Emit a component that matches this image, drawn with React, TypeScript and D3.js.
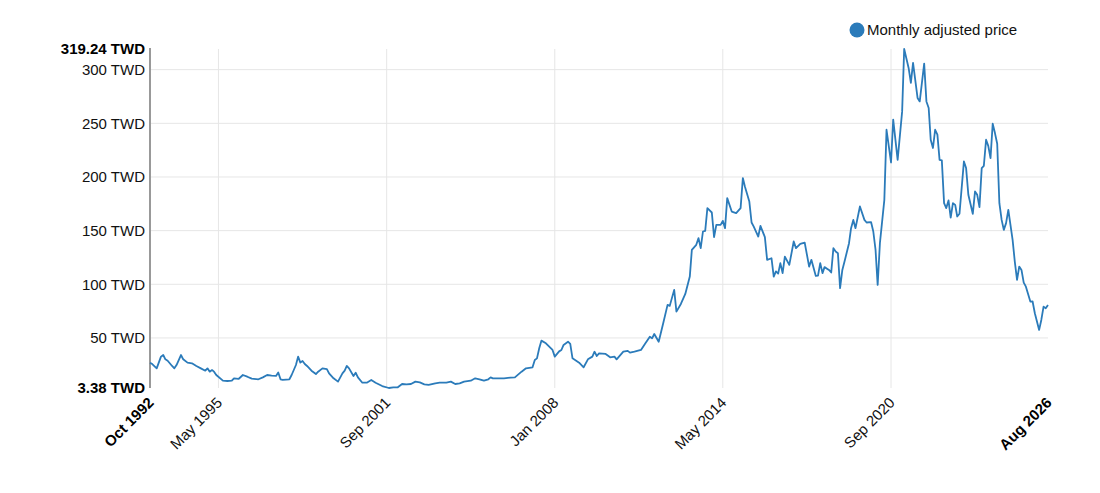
import React from 'react';
import * as d3 from 'd3';

// monthly adjusted price, TWD
const priceSeries: [string, number][] = [
  ["1992-10", 27], ["1992-11", 25.7], ["1993-01", 21.7], ["1993-03", 32.6], ["1993-04", 34.1],
  ["1993-05", 30.1], ["1993-06", 28.8], ["1993-08", 23.9], ["1993-09", 21.7], ["1993-10", 24.8],
  ["1993-12", 34.1], ["1994-01", 30.1], ["1994-03", 27], ["1994-05", 26.4], ["1994-07", 23.9],
  ["1994-09", 21.7], ["1994-11", 19.5], ["1994-12", 21.7], ["1995-01", 18.6], ["1995-02", 20.1],
  ["1995-03", 18.6], ["1995-04", 15.5], ["1995-07", 10.2], ["1995-09", 9.9], ["1995-11", 10.2],
  ["1995-12", 12.4], ["1996-02", 11.8], ["1996-04", 15.5], ["1996-06", 13.9], ["1996-08", 12.1],
  ["1996-11", 11.5], ["1997-01", 13.3], ["1997-03", 15.5], ["1997-05", 14.9], ["1997-07", 14.6],
  ["1997-08", 17.9], ["1997-09", 11.5], ["1997-10", 11], ["1998-01", 11.5], ["1998-02", 15.5],
  ["1998-04", 24.8], ["1998-05", 32.6], ["1998-06", 27], ["1998-07", 28.5], ["1998-08", 25.7],
  ["1998-09", 23.9], ["1998-11", 19.5], ["1999-01", 16.4], ["1999-02", 18.6], ["1999-04", 21.7],
  ["1999-06", 20.9], ["1999-07", 17], ["1999-09", 12.4], ["1999-11", 9.3], ["2000-01", 17],
  ["2000-02", 19.5], ["2000-03", 23.9], ["2000-04", 21.7], ["2000-06", 14.6], ["2000-07", 17.6],
  ["2000-08", 13.3], ["2000-10", 8.3], ["2000-12", 8.3], ["2001-02", 10.8], ["2001-04", 8.3],
  ["2001-07", 5.2], ["2001-10", 3.38], ["2001-12", 4], ["2002-02", 4], ["2002-04", 7.1],
  ["2002-06", 6.8], ["2002-08", 7.1], ["2002-10", 9.3], ["2002-12", 8.6], ["2003-02", 6.8],
  ["2003-04", 6.2], ["2003-07", 7.7], ["2003-09", 8.3], ["2003-12", 8.3], ["2004-02", 9.3],
  ["2004-04", 7.1], ["2004-06", 7.7], ["2004-08", 9.3], ["2004-11", 10.2], ["2005-01", 12.4],
  ["2005-03", 11.5], ["2005-05", 10.2], ["2005-07", 11.5], ["2005-08", 13.3], ["2005-09", 12.4],
  ["2005-11", 12.4], ["2006-02", 12.4], ["2006-05", 13], ["2006-07", 13.3], ["2006-10", 18.6],
  ["2006-12", 21.7], ["2007-03", 22.7], ["2007-04", 29.5], ["2007-05", 31], ["2007-06", 40.4],
  ["2007-07", 47.5], ["2007-09", 45], ["2007-12", 38.8], ["2008-01", 32.6], ["2008-03", 37.5],
  ["2008-04", 38.8], ["2008-05", 43.5], ["2008-07", 46.5], ["2008-08", 44.4], ["2008-09", 31],
  ["2008-12", 27], ["2009-02", 22.7], ["2009-04", 30.1], ["2009-06", 32.6], ["2009-07", 37.2],
  ["2009-08", 33.2], ["2009-09", 35.7], ["2009-12", 35.1], ["2010-02", 32], ["2010-04", 32.6],
  ["2010-05", 30.1], ["2010-08", 37.2], ["2010-10", 38], ["2010-11", 36.3], ["2011-01", 37.2],
  ["2011-04", 38.8], ["2011-06", 45], ["2011-08", 51.2], ["2011-09", 49.7], ["2011-10", 53.7],
  ["2011-12", 46.5], ["2012-02", 63.7], ["2012-04", 80.8], ["2012-05", 79.9], ["2012-07", 94.8],
  ["2012-08", 74.5], ["2012-10", 81.7], ["2012-12", 91], ["2013-02", 107.2], ["2013-03", 132],
  ["2013-05", 136.8], ["2013-06", 143], ["2013-07", 133.7], ["2013-08", 149.2], ["2013-09", 149.8],
  ["2013-10", 171], ["2013-12", 166.9], ["2014-01", 143.9], ["2014-02", 155.4], ["2014-04", 155.4],
  ["2014-05", 159.1], ["2014-06", 152.3], ["2014-07", 180.3], ["2014-09", 167.8], ["2014-11", 166.3],
  ["2015-01", 171], ["2015-02", 199], ["2015-03", 191.2], ["2015-05", 177.1], ["2015-06", 157.6],
  ["2015-07", 153.8], ["2015-09", 144.5], ["2015-10", 154.5], ["2015-12", 143.9], ["2016-01", 122.8],
  ["2016-03", 124.3], ["2016-04", 107.2], ["2016-05", 112], ["2016-06", 110], ["2016-07", 119.7],
  ["2016-08", 110.4], ["2016-09", 125.8], ["2016-11", 118.1], ["2017-01", 139.9], ["2017-02", 133.7],
  ["2017-04", 137.7], ["2017-06", 138.9], ["2017-08", 116.5], ["2017-09", 122.8], ["2017-11", 107.8],
  ["2017-12", 108], ["2018-01", 119.7], ["2018-02", 110.4], ["2018-03", 116], ["2018-05", 113.4],
  ["2018-06", 111], ["2018-07", 133.7], ["2018-08", 130.5], ["2018-09", 129], ["2018-10", 96.4],
  ["2018-11", 113.4], ["2018-12", 121.2], ["2019-02", 138.3], ["2019-03", 152.3], ["2019-04", 160],
  ["2019-05", 152.3], ["2019-07", 172.5], ["2019-09", 160], ["2019-10", 157.6], ["2019-12", 158],
  ["2020-01", 149.2], ["2020-02", 132], ["2020-03", 99.4], ["2020-04", 138.3], ["2020-06", 178.7],
  ["2020-07", 244], ["2020-09", 213.5], ["2020-10", 253.4], ["2020-12", 216], ["2021-02", 261.1],
  ["2021-03", 319.24], ["2021-05", 301.6], ["2021-06", 287.6], ["2021-07", 306.3], ["2021-09", 273.6],
  ["2021-10", 270.4], ["2021-12", 305.6], ["2022-01", 270.4], ["2022-02", 264.3], ["2022-03", 234.7],
  ["2022-04", 227], ["2022-05", 244], ["2022-06", 239.4], ["2022-07", 216], ["2022-08", 215.5],
  ["2022-09", 175.6], ["2022-10", 171], ["2022-11", 178.1], ["2022-12", 162.2], ["2023-01", 175.6],
  ["2023-02", 174], ["2023-03", 163.2], ["2023-04", 165.7], ["2023-06", 214.5], ["2023-07", 208.3],
  ["2023-08", 183.4], ["2023-10", 165.7], ["2023-11", 186.5], ["2023-12", 183.4], ["2024-01", 171.9],
  ["2024-02", 208.3], ["2024-03", 210.4], ["2024-04", 234.7], ["2024-05", 229], ["2024-06", 217.6],
  ["2024-07", 249.6], ["2024-08", 240.9], ["2024-09", 231], ["2024-10", 175.6], ["2024-11", 160],
  ["2024-12", 150.7], ["2025-01", 157], ["2025-02", 169.4], ["2025-04", 141.4], ["2025-05", 121.2],
  ["2025-06", 104.1], ["2025-07", 116.5], ["2025-08", 113.4], ["2025-09", 101.6], ["2025-10", 97.8],
  ["2025-12", 83.9], ["2026-01", 84], ["2026-02", 73], ["2026-04", 57.5], ["2026-05", 66.8],
  ["2026-06", 79.2], ["2026-07", 77.7], ["2026-08", 80.8],
];

const yTicks = [50, 100, 150, 200, 250, 300];
const xTicks = ["1995-05", "2001-09", "2008-01", "2014-05", "2020-09"];
const seriesName = "Monthly adjusted price";
const currency = "TWD";

const W = 1100;
const H = 493;
const margin = { top: 49, right: 52, bottom: 105, left: 150 };
const blue = "#2b7bba";
const font = "'Liberation Sans', Arial, sans-serif";
const fontSize = 15;

const parseMonth = d3.timeParse("%Y-%m");
const fmtMonth = d3.timeFormat("%b %Y");

export default function App() {
  const data = priceSeries.map(([d, v]) => ({ date: parseMonth(d) as Date, value: v }));
  const [minDate, maxDate] = d3.extent(data, (d) => d.date) as [Date, Date];
  const [minVal, maxVal] = d3.extent(data, (d) => d.value) as [number, number];

  const x = d3.scaleTime().domain([minDate, maxDate]).range([margin.left, W - margin.right]);
  const y = d3.scaleLinear().domain([minVal, maxVal]).range([H - margin.bottom, margin.top]);

  const line = d3
    .line<{ date: Date; value: number }>()
    .x((d) => x(d.date))
    .y((d) => y(d.value));

  const xTickDates = xTicks.map((d) => parseMonth(d) as Date);
  const x0 = margin.left;
  const x1 = W - margin.right;
  const yBottom = y(minVal);
  const yTop = y(maxVal);

  const fmtVal = (v: number) => `${d3.format("~f")(v)} ${currency}`;

  return (
    <svg
      width={W}
      height={H}
      style={{ position: 'absolute', left: 0, top: 0, display: 'block', background: '#fff' }}
      fontFamily={font}
    >
      {/* horizontal grid */}
      {yTicks.map((t) => (
        <line key={`hg${t}`} x1={x0} x2={x1} y1={y(t)} y2={y(t)} stroke="#e6e6e6" strokeWidth={1} />
      ))}
      {/* vertical grid */}
      {xTickDates.map((d, i) => (
        <line key={`vg${i}`} x1={x(d)} x2={x(d)} y1={yTop} y2={yBottom} stroke="#e6e6e6" strokeWidth={1} />
      ))}

      {/* y axis */}
      <line x1={x0} x2={x0} y1={yTop - 1} y2={yBottom} stroke="#999" strokeWidth={2} />
      {yTicks.map((t) => (
        <text key={`yl${t}`} x={x0 - 5} y={y(t)} dy="0.35em" textAnchor="end" fontSize={fontSize} fill="#111">
          {fmtVal(t)}
        </text>
      ))}
      <text x={x0 - 5} y={yTop} dy="0.35em" textAnchor="end" fontSize={fontSize} fontWeight="bold" fill="#000">
        {fmtVal(maxVal)}
      </text>
      <text x={x0 - 5} y={yBottom} dy="0.35em" textAnchor="end" fontSize={fontSize} fontWeight="bold" fill="#000">
        {fmtVal(minVal)}
      </text>

      {/* x labels */}
      {[minDate, ...xTickDates, maxDate].map((d, i, arr) => {
        const edge = i === 0 || i === arr.length - 1;
        return (
          <text
            key={`xl${i}`}
            transform={`translate(${x(d) + 1},${yBottom + 12}) rotate(-45)`}
            textAnchor="end"
            dy="0.35em"
            fontSize={fontSize}
            fontWeight={edge ? "bold" : "normal"}
            fill={edge ? "#000" : "#111"}
          >
            {fmtMonth(d)}
          </text>
        );
      })}

      {/* series */}
      <path d={line(data) ?? ""} fill="none" stroke={blue} strokeWidth={1.8} strokeLinejoin="round" />

      {/* legend */}
      <circle cx={857} cy={30} r={7.5} fill={blue} />
      <text x={867} y={30} dy="0.35em" fontSize={fontSize} fill="#111">
        {seriesName}
      </text>
    </svg>
  );
}
